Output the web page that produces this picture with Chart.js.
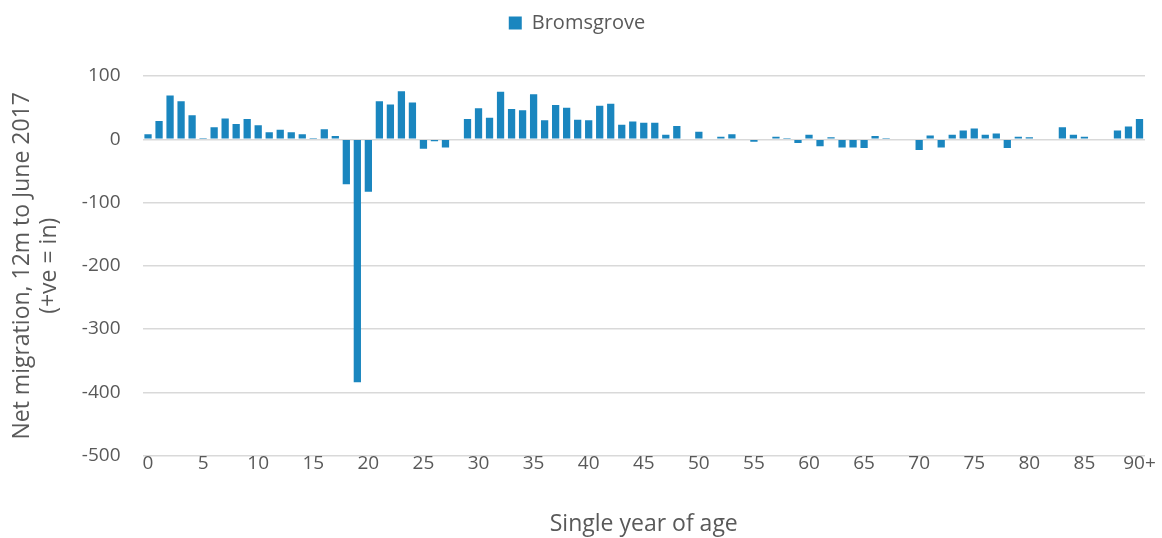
<!DOCTYPE html>
<html>
<head>
<meta charset="utf-8">
<script src="https://cdn.jsdelivr.net/npm/chart.js@4"></script>
<style>
html,body{margin:0;padding:0;background:#fff;}
#wrap{width:1162px;height:538px;position:relative;}
</style>
</head>
<body>
<div id="wrap"><canvas id="c"></canvas></div>
<script>
const categories = [];
for (let i = 0; i < 90; i++) categories.push(String(i));
categories.push('90+');

const seriesName = 'Bromsgrove';
const netMigration = [
  8, 29, 69, 60, 38, 2, 19, 33, 24, 32,
  22, 11, 15, 11, 8, 2, 16, 5, -71, -384,
  -83, 60, 55, 76, 58, -15, -3, -13, 0, 32,
  49, 34, 75, 48, 46, 71, 30, 54, 50, 31,
  30, 53, 56, 23, 28, 26, 26, 7, 21, -1,
  12, -1, 4, 8, 0, -4, -1, 4, 2, -6,
  7, -11, 3, -13, -13, -14, 5, 2, -1, 0,
  -17, 6, -13, 7, 14, 17, 7, 9, -14, 4,
  3, -1, -1, 19, 7, 4, -1, 0, 14, 20,
  32
];

const yTicks = [100, 0, -100, -200, -300, -400, -500];
const yTitle = ['Net migration, 12m to June 2017', '(+ve = in)'];
const xTitle = 'Single year of age';

const FONT = '"Open Sans", Lato, sans-serif';
const TXT = '#595959';

const legendMargin = {
  id: 'legendMargin',
  beforeInit(chart) {
    const origFit = chart.legend.fit;
    chart.legend.fit = function () {
      origFit.bind(chart.legend)();
      this.height += 33;
    };
  }
};

new Chart(document.getElementById('c'), {
  type: 'bar',
  data: {
    labels: categories,
    datasets: [{
      label: seriesName,
      data: netMigration,
      backgroundColor: '#1a86bf',
      borderWidth: 0,
      barPercentage: 0.66,
      categoryPercentage: 1.0
    }]
  },
  plugins: [legendMargin],
  options: {
    responsive: true,
    maintainAspectRatio: false,
    animation: false,
    layout: { padding: { top: 5, right: 17, left: 9, bottom: 0 } },
    plugins: {
      legend: {
        position: 'top',
        labels: {
          color: TXT,
          font: { family: FONT, size: 20 },
          boxWidth: 13,
          boxHeight: 13,
          padding: 8
        }
      },
      tooltip: { enabled: false }
    },
    scales: {
      x: {
        grid: { display: false, drawTicks: false },
        border: { display: false },
        ticks: {
          color: TXT,
          font: { family: FONT, size: 19 },
          maxRotation: 0,
          autoSkip: false,
          padding: -3,
          callback: function (v, i) { return i % 5 === 0 ? categories[i] : ''; }
        },
        title: {
          display: true,
          text: xTitle,
          color: TXT,
          font: { family: FONT, size: 23 },
          padding: { top: 38, bottom: 0 }
        }
      },
      y: {
        min: -500,
        max: 100,
        afterBuildTicks: function (s) { s.ticks = yTicks.map(v => ({ value: v })); },
        grid: { color: '#d9d9d9', lineWidth: 1.5, drawTicks: false },
        border: { display: false },
        ticks: {
          color: TXT,
          font: { family: FONT, size: 19 },
          padding: 22
        },
        title: {
          display: true,
          text: yTitle,
          color: TXT,
          font: { family: FONT, size: 23, lineHeight: 1.17 },
          padding: { top: 0, bottom: -3 }
        }
      }
    }
  }
});
</script>
</body>
</html>
